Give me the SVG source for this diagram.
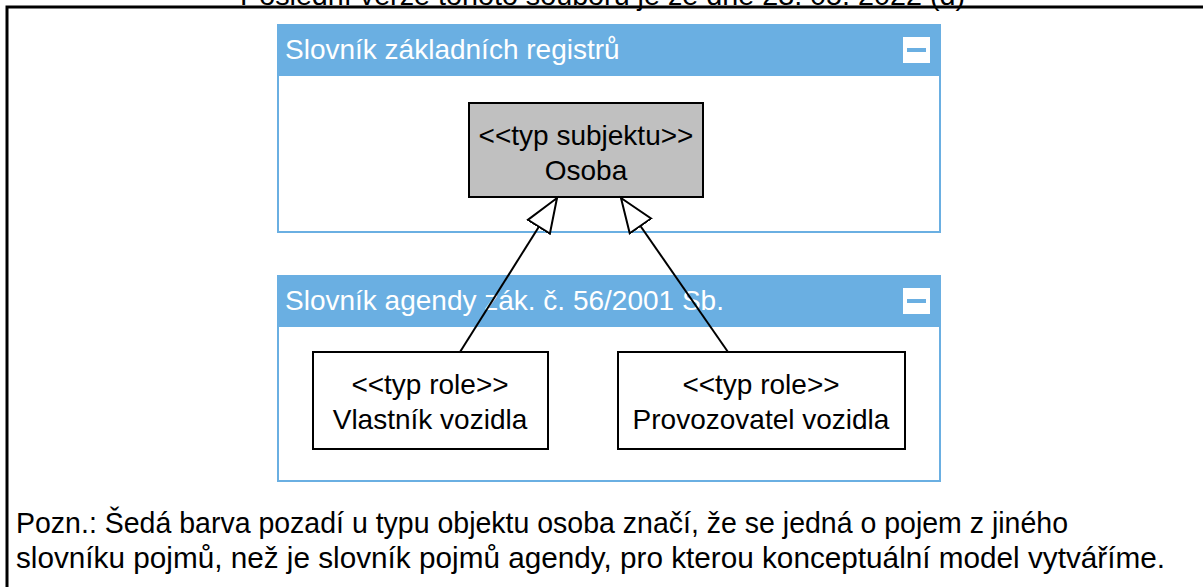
<svg xmlns="http://www.w3.org/2000/svg" width="1203" height="587" viewBox="0 0 1203 587">
<style>
text{font-family:"Liberation Sans",Arial,sans-serif;}
.t{font-size:28px;fill:#000;}
.h{font-size:28px;fill:#fff;}
.n{font-size:29px;fill:#000;}
.c{text-anchor:middle;}
.pkg{fill:#fff;stroke:#6aafe2;stroke-width:2;}
.hdr{fill:#6aafe2;}
.btn{fill:#fff;}
.bar{fill:#6aafe2;}
.cls{stroke:#000;stroke-width:2;}
.edge{fill:none;stroke:#000;stroke-width:2;}
</style>
<defs>
<marker id="gen" markerUnits="userSpaceOnUse" markerWidth="38" markerHeight="30" refX="35" refY="14" orient="auto" viewBox="0 0 38 28">
<path d="M1,1 L35,14 L1,27 Z" fill="#fff" stroke="#000" stroke-width="2"/>
</marker>
</defs>
<rect width="1203" height="587" fill="#fff"/>
<text class="t" x="240" y="5" textLength="725" lengthAdjust="spacingAndGlyphs">Poslední verze tohoto souboru je ze dne 23. 05. 2022 (d)</text>
<path d="M7,587 V7 H1203" fill="none" stroke="#000" stroke-width="3"/>
<g id="pkg-registry">
<rect class="pkg" x="278" y="25" width="662" height="207"/>
<rect class="hdr" x="278" y="25" width="662" height="51"/>
<text class="h" x="285" y="59">Slovník základních registrů</text>
<rect class="btn" x="903" y="37" width="27" height="26"/>
<rect class="bar" x="907" y="48" width="19" height="4"/>
</g>
<g id="pkg-agenda">
<rect class="pkg" x="278" y="276" width="662" height="205"/>
<rect class="hdr" x="278" y="276" width="662" height="51"/>
<text class="h" x="285" y="310">Slovník agendy zák. č. 56/2001 Sb.</text>
<rect class="btn" x="903" y="288" width="27" height="26"/>
<rect class="bar" x="907" y="299" width="19" height="4"/>
</g>
<g id="node-osoba">
<rect class="cls" x="469" y="103" width="234" height="94" fill="#c0c0c0"/>
<text class="t c" x="586" y="145">&lt;&lt;typ subjektu&gt;&gt;</text>
<text class="t c" x="586" y="180">Osoba</text>
</g>
<g id="node-vlastnik">
<rect class="cls" x="313" y="352" width="235" height="97" fill="#fff"/>
<text class="t c" x="430" y="394">&lt;&lt;typ role&gt;&gt;</text>
<text class="t c" x="430" y="429">Vlastník vozidla</text>
</g>
<g id="node-provozovatel">
<rect class="cls" x="618" y="352" width="287" height="97" fill="#fff"/>
<text class="t c" x="761" y="394">&lt;&lt;typ role&gt;&gt;</text>
<text class="t c" x="761" y="429">Provozovatel vozidla</text>
</g>
<g id="connectors">
<path class="edge" d="M460,352 L557,198" marker-end="url(#gen)"/>
<path class="edge" d="M728,352 L621,198" marker-end="url(#gen)"/>
</g>
<g id="note">
<text class="n" x="16" y="533" textLength="1052" lengthAdjust="spacingAndGlyphs">Pozn.: Šedá barva pozadí u typu objektu osoba značí, že se jedná o pojem z jiného</text>
<text class="n" x="16" y="568" textLength="1149" lengthAdjust="spacingAndGlyphs">slovníku pojmů, než je slovník pojmů agendy, pro kterou konceptuální model vytváříme.</text>
</g>
</svg>
